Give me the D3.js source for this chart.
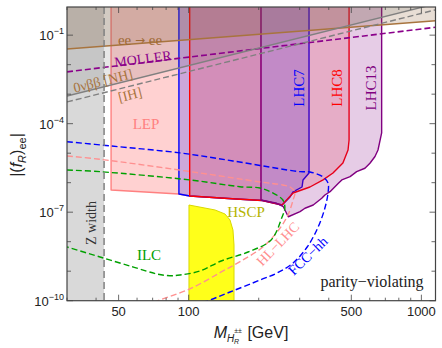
<!DOCTYPE html>
<html>
<head>
<meta charset="utf-8">
<script src="https://cdn.jsdelivr.net/npm/d3@7/dist/d3.min.js"></script>
<style>
  html, body { margin: 0; padding: 0; background: #fff; }
  svg { display: block; }
  .lbl { font-family: "Liberation Serif", "DejaVu Serif", serif; }
  .sans { font-family: "Liberation Sans", Arial, sans-serif; }
</style>
</head>
<body>
<svg id="chart" width="442" height="348"></svg>
<script>
// mass in GeV, coupling |(f_R)_ee|
const xTickValues = [50, 100, 500, 1000];
const xMinorValues = [30, 40, 60, 70, 80, 90, 200, 300, 400, 600, 700, 800, 900];
const yTickExps = [-1, -4, -7, -10];
const yDecadeExps = [-10, -9, -8, -7, -6, -5, -4, -3, -2, -1];

const zWidthMass = 43.3;

// straight limit lines (ee -> ee, MOLLER, 0vbb)
const eeLine = [[30, 0.034], [1150, 0.31]];
const mollerLine = [[30, 5.7e-3], [1150, 0.185]];
const nhLine = [[30, 8.7e-4], [1150, 1.15]];
const ihLine = [[30, 5.45e-4], [1150, 0.72]];

// excluded regions
const lepBound = [[46.4, 1], [46.4, 5.66e-7], [90.8, 4.14e-7], [101, 3.54e-7], [160, 2.8e-7], [204.5, 2.55e-7], [204.5, 1]];
const lhc7Bound = [[90.8, 1], [90.8, 4.14e-7], [101, 3.54e-7], [160, 2.8e-7], [207, 2.5e-7], [252, 1.75e-7],
  [257, 2.05e-7], [272.5, 3.27e-7], [281, 4.84e-7], [307, 7.14e-7], [310, 1.24e-6], [329, 2.13e-6], [329, 1]];
const lhc8Bound = [[101, 1], [101, 3.54e-7], [160, 2.8e-7], [207, 2.5e-7], [252, 1.75e-7], [281, 4.48e-7],
  [332, 7.14e-7], [378, 1.24e-6], [417, 2.13e-6], [460, 4.66e-6], [484, 1.28e-5], [489, 2.8e-5], [489, 1]];
const lhc13Bound = [[204.5, 1], [204.5, 2.59e-7], [239, 2.0e-7], [255, 1.53e-7], [268, 7.0e-8], [301, 1.04e-7],
  [316, 1.36e-7], [343, 1.75e-7], [373, 2.96e-7], [385, 3.83e-7], [405, 4.95e-7], [440, 9.55e-7], [455, 1.24e-6],
  [494, 1.6e-6], [527, 2.36e-6], [572, 3.08e-6], [601, 4.55e-6], [632, 7.7e-6], [651, 1.28e-5], [675, 4.84e-5], [675, 1]];
const hscpBound = [[100.3, 1.75e-7], [129.7, 1.19e-7], [143.2, 8.7e-8], [150.5, 5.45e-8], [155, 2.49e-8],
  [156.6, 7.7e-9], [156.6, 5e-11], [100.3, 5e-11]];

// future sensitivities
const fccCurve = [[30, 2.45e-5], [46.4, 1.75e-5], [91.8, 1.02e-5], [155, 5.45e-6], [301, 2.36e-6], [332, 2.31e-6],
  [378, 1.56e-6], [397, 9.8e-7], [397, 4.48e-7], [385, 1.39e-7], [360, 3.15e-8], [323, 6.6e-9], [281, 1.9e-9],
  [240, 8.7e-10], [203, 5.04e-10], [150.5, 1.97e-10], [121, 1e-10], [101, 6.6e-11]];
const hllhcCurve = [[30, 8.04e-6], [41.6, 6.21e-6], [112, 2.13e-6], [202.5, 1.06e-6], [254, 8.36e-7], [272.5, 7.14e-7],
  [286, 4.84e-7], [281, 2.59e-7], [267, 8.04e-8], [247, 2.91e-8], [211, 7.14e-9], [168, 2.22e-9], [138, 9.4e-10],
  [101, 2.5e-10], [73.8, 1e-10], [68.2, 7.8e-11]];
const ilcCurve = [[30, 2.7e-6], [41.6, 2.36e-6], [101, 1.24e-6], [166, 7.31e-7], [202.5, 6.6e-7], [230, 4.48e-7],
  [254, 2.59e-7], [259, 1.39e-7], [252, 6.87e-8], [226, 1.14e-8], [180, 4.48e-9], [138, 2.22e-9], [112, 1.02e-9],
  [91.8, 7.43e-10], [83.1, 7.03e-10], [73.1, 8.04e-10], [57.7, 1.39e-9], [41.6, 3.03e-9], [30, 6.6e-9]];

const svg = d3.select("#chart");
const pLeft = 67, pRight = 435.5, pTop = 7, pBottom = 300.7;

const x = d3.scaleLog().domain([30, 1150]).range([pLeft, pRight]);
const y = d3.scaleLog().domain([1e-10, 0.9]).range([pBottom, pTop]);

svg.append("defs").append("clipPath").attr("id", "plotclip")
  .append("rect").attr("x", pLeft).attr("y", pTop).attr("width", pRight - pLeft).attr("height", pBottom - pTop);

const plot = svg.append("g").attr("clip-path", "url(#plotclip)");
const line = d3.line().x(d => x(d[0])).y(d => y(d[1]));
const poly = pts => line(pts) + "Z";

// Z width band
plot.append("rect")
  .attr("x", x(30)).attr("y", pTop)
  .attr("width", x(zWidthMass) - x(30)).attr("height", pBottom - pTop)
  .attr("fill", "#d9d9d9");

// collider exclusion regions
const regions = [
  { pts: lepBound, fill: "#ff0000", op: 0.18, stroke: "#ff8080" },
  { pts: lhc7Bound, fill: "#0000ff", op: 0.2, stroke: "#0000ff" },
  { pts: lhc8Bound, fill: "#ff0000", op: 0.15, stroke: "#ff0000" },
  { pts: lhc13Bound, fill: "#800080", op: 0.2, stroke: "#800080" }
];
regions.forEach(r => {
  plot.append("path").attr("d", poly(r.pts))
    .attr("fill", r.fill).attr("fill-opacity", r.op)
    .attr("stroke", r.stroke).attr("stroke-width", 1.4).attr("stroke-linejoin", "round");
});

plot.append("path").attr("d", poly(hscpBound))
  .attr("fill", "#ffff1a").attr("stroke", "#d8d800").attr("stroke-width", 1);

// top regions: ee -> ee and 0vbb
plot.append("path").attr("d", poly([eeLine[0], eeLine[1], [1150, 2], [30, 2]]))
  .attr("fill", "#8a5a2b").attr("fill-opacity", 0.2);
plot.append("path").attr("d", poly([nhLine[0], nhLine[1], [30, 2]]))
  .attr("fill", "#606060").attr("fill-opacity", 0.15);

// lines
const lines = [
  { pts: eeLine, color: "#a8743e", dash: null, w: 1.5 },
  { pts: mollerLine, color: "#8b008b", dash: "6,3", w: 1.6 },
  { pts: nhLine, color: "#808080", dash: null, w: 1.4 },
  { pts: ihLine, color: "#808080", dash: "6,3", w: 1.4 },
  { pts: fccCurve, color: "#0000ff", dash: "6,3", w: 1.4 },
  { pts: hllhcCurve, color: "#ff9090", dash: "6,3", w: 1.4 },
  { pts: ilcCurve, color: "#00a000", dash: "6,3", w: 1.4 }
];
lines.forEach(l => {
  plot.append("path").attr("d", d3.line().curve(d3.curveCatmullRom)
      .x(d => x(d[0])).y(d => y(d[1]))(l.pts))
    .attr("fill", "none").attr("stroke", l.color)
    .attr("stroke-width", l.w).attr("stroke-dasharray", l.dash);
});

plot.append("line")
  .attr("x1", x(zWidthMass)).attr("x2", x(zWidthMass))
  .attr("y1", pTop).attr("y2", pBottom)
  .attr("stroke", "#808080").attr("stroke-width", 1.5).attr("stroke-dasharray", "7,4");

// in-plot labels
const labels = [
  { t: "MOLLER", x: 143, y: 59, c: "#8b008b", s: 14, r: -7 },
  { t: "0νββ [NH]", x: 103, y: 81, c: "#a8743e", s: 14, r: -14 },
  { t: "[IH]", x: 130, y: 95, c: "#a8743e", s: 14, r: -14 },
  { t: "LEP", x: 146, y: 124, c: "#ff8080", s: 15, r: 0 },
  { t: "LHC7", x: 298.5, y: 88, c: "#0000ff", s: 15, r: -90 },
  { t: "LHC8", x: 337, y: 88, c: "#ff0000", s: 15, r: -90 },
  { t: "LHC13", x: 371, y: 88, c: "#800080", s: 15, r: -90 },
  { t: "Z width", x: 91.5, y: 223, c: "#333333", s: 14, r: -90 },
  { t: "ILC", x: 149, y: 255, c: "#00a000", s: 15, r: 0 },
  { t: "HSCP", x: 246, y: 212, c: "#b4b400", s: 15, r: 0 },
  { t: "HL−LHC", x: 278, y: 244, c: "#ff9090", s: 14, r: -46 },
  { t: "FCC−hh", x: 308, y: 256, c: "#0000ff", s: 14, r: -44 },
  { t: "parity−violating", x: 372, y: 281, c: "#222222", s: 16, r: 0 }
];
labels.forEach(l => {
  svg.append("text").attr("class", "lbl")
    .attr("transform", `translate(${l.x},${l.y}) rotate(${l.r})`)
    .attr("text-anchor", "middle").attr("dominant-baseline", "central")
    .attr("font-size", l.s).attr("fill", l.c).text(l.t);
});

// ee -> ee label, arrow from a font that has it
const eeLbl = svg.append("text").attr("class", "lbl")
  .attr("x", 140).attr("y", 40).attr("text-anchor", "middle").attr("dominant-baseline", "central")
  .attr("font-size", 15).attr("fill", "#a06a35");
eeLbl.append("tspan").text("ee ");
eeLbl.append("tspan").attr("font-family", "DejaVu Sans").attr("font-size", 12).text("→");
eeLbl.append("tspan").text(" ee");

// frame
const axisColor = "#444";
svg.append("rect").attr("x", pLeft).attr("y", pTop)
  .attr("width", pRight - pLeft).attr("height", pBottom - pTop)
  .attr("fill", "none").attr("stroke", axisColor).attr("stroke-width", 1.2);

// x ticks (bottom and top), y ticks (left and right)
const tickG = svg.append("g").attr("stroke", axisColor).attr("stroke-width", 0.8);
xTickValues.forEach(v => {
  tickG.append("line").attr("x1", x(v)).attr("x2", x(v)).attr("y1", pBottom).attr("y2", pBottom - 6);
  tickG.append("line").attr("x1", x(v)).attr("x2", x(v)).attr("y1", pTop).attr("y2", pTop + 6);
});
xMinorValues.forEach(v => {
  tickG.append("line").attr("x1", x(v)).attr("x2", x(v)).attr("y1", pBottom).attr("y2", pBottom - 3);
  tickG.append("line").attr("x1", x(v)).attr("x2", x(v)).attr("y1", pTop).attr("y2", pTop + 3);
});
yDecadeExps.forEach(e => {
  const len = yTickExps.includes(e) ? 6 : 4;
  const yy = y(Math.pow(10, e));
  tickG.append("line").attr("x1", pLeft).attr("x2", pLeft + len).attr("y1", yy).attr("y2", yy);
  tickG.append("line").attr("x1", pRight).attr("x2", pRight - len).attr("y1", yy).attr("y2", yy);
});

// tick labels
xTickValues.forEach(v => {
  svg.append("text").attr("class", "sans")
    .attr("x", x(v)).attr("y", 316).attr("text-anchor", "middle")
    .attr("font-size", 13).attr("fill", "#222").text(v);
});
yTickExps.forEach(e => {
  const t = svg.append("text").attr("class", "sans")
    .attr("x", 64).attr("y", y(Math.pow(10, e)) + 5).attr("text-anchor", "end")
    .attr("font-size", 13).attr("fill", "#222");
  t.append("tspan").text("10");
  t.append("tspan").attr("font-size", 9).attr("dy", -6).text("−" + Math.abs(e));
});

// axis titles
const xt = svg.append("text").attr("class", "sans").attr("fill", "#222")
  .attr("x", 251).attr("y", 338).attr("text-anchor", "middle").attr("font-size", 16);
xt.append("tspan").attr("font-style", "italic").text("M");
xt.append("tspan").attr("font-style", "italic").attr("font-size", 10).attr("dy", 4).text("H");
xt.append("tspan").attr("font-size", 7).attr("dy", -9).text("±±");
xt.append("tspan").attr("font-style", "italic").attr("font-size", 7).attr("dx", -8).attr("dy", 11).text("R");
xt.append("tspan").attr("dy", -6).attr("dx", 4).text(" [GeV]");

const yt = svg.append("text").attr("class", "sans").attr("fill", "#222")
  .attr("transform", "translate(22,155) rotate(-90)").attr("text-anchor", "middle").attr("font-size", 16);
yt.append("tspan").text("|(");
yt.append("tspan").attr("font-style", "italic").text("f");
yt.append("tspan").attr("font-style", "italic").attr("font-size", 11).attr("dy", 4).text("R");
yt.append("tspan").attr("dy", -4).text(")");
yt.append("tspan").attr("font-size", 11).attr("dy", 4).text("ee");
yt.append("tspan").attr("dy", -4).text("|");
</script>
</body>
</html>
